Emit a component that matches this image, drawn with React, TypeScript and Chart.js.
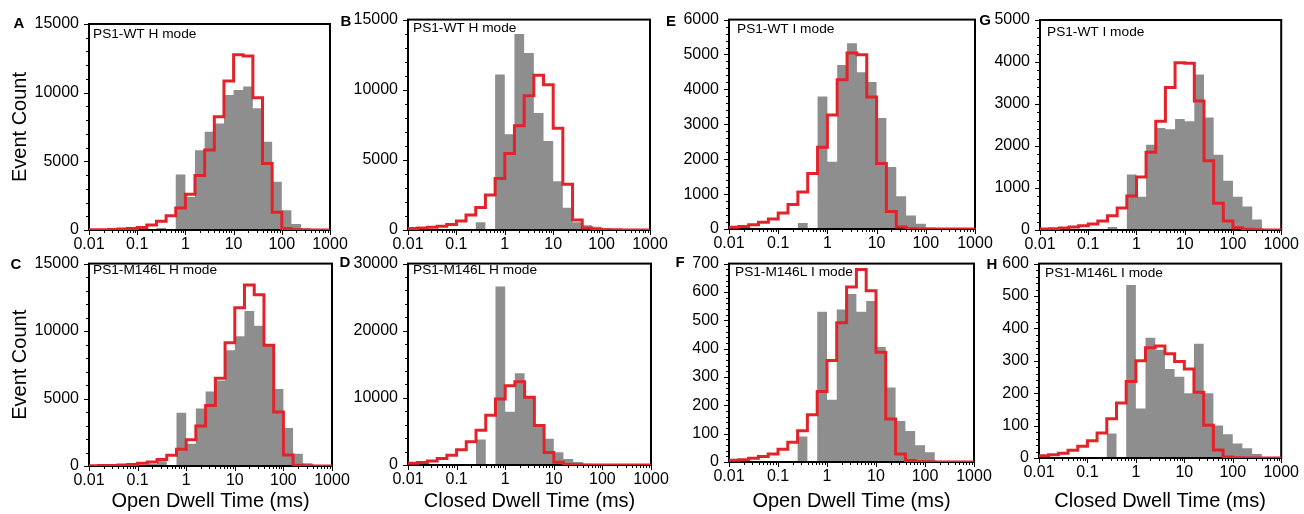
import React, { useEffect, useRef } from 'react';
import { Chart, registerables } from 'chart.js';

Chart.register(...registerables);
Chart.defaults.font.family = "'Liberation Sans', Arial, Helvetica, sans-serif";

// Log-spaced bin edges (5 bins per decade), 0.01 .. 1000 ms
const binEdges = [0.01, 0.0158, 0.0251, 0.0398, 0.0631, 0.1, 0.158, 0.251, 0.398, 0.631, 1, 1.58, 2.51, 3.98, 6.31, 10, 15.8, 25.1, 39.8, 63.1, 100, 158, 251, 398, 631, 1000];
const xTickValues = [0.01, 0.1, 1, 10, 100, 1000];
const xTickLabels = ['0.01', '0.1', '1', '10', '100', '1000'];

// A: PS1-WT H mode, open dwell
const histA = [0, 0, 0, 0, 0, 0, 0, 150, 0, 4050, 2400, 5800, 7150, 7750, 9830, 10190, 10440, 8860, 6430, 3520, 1430, 430, 130, 40, 0];
const fitA = [15, 25, 40, 65, 110, 180, 360, 640, 1030, 1600, 2600, 3960, 5820, 8250, 10850, 12770, 12670, 9630, 4850, 1290, 110, 20, 5, 2, 1];
// B: PS1-WT H mode, closed dwell
const histB = [0, 0, 0, 0, 0, 0, 0, 550, 0, 11090, 6830, 13980, 12610, 8340, 6350, 3480, 1590, 545, 330, 240, 140, 80, 40, 20, 0];
const fitB = [100, 140, 190, 260, 400, 640, 1070, 1610, 2490, 3670, 5450, 7440, 9570, 11040, 10360, 7250, 3270, 710, 140, 50, 20, 10, 5, 2, 1];
// E: PS1-WT I mode, open dwell
const histE = [0, 0, 0, 0, 0, 0, 0, 170, 0, 3800, 1930, 4700, 5320, 4490, 4210, 3180, 1775, 935, 390, 150, 40, 10, 0, 0, 0];
const fitE = [50, 75, 125, 190, 290, 460, 700, 1060, 1590, 2340, 3270, 4280, 5040, 4990, 3780, 1880, 505, 60, 10, 3, 2, 1, 1, 1, 1];
// G: PS1-WT I mode, closed dwell
const histG = [0, 0, 0, 0, 0, 0, 0, 70, 0, 1320, 790, 2030, 2430, 2400, 2640, 2590, 3700, 2680, 1790, 1170, 790, 560, 250, 0, 0];
const fitG = [25, 30, 45, 70, 100, 145, 215, 340, 525, 810, 1260, 1850, 2590, 3390, 3985, 3970, 3070, 1650, 635, 215, 55, 15, 5, 2, 1];
// C: PS1-M146L H mode, open dwell
const histC = [0, 0, 0, 0, 0, 0, 150, 350, 0, 3950, 1650, 4270, 5530, 6330, 8570, 9610, 11480, 10390, 8900, 5700, 2815, 900, 200, 50, 0];
const fitC = [20, 30, 45, 70, 120, 195, 290, 490, 800, 1250, 1940, 2960, 4490, 6500, 9125, 11720, 13420, 12690, 8950, 4000, 820, 60, 10, 3, 1];
// D: PS1-M146L H mode, closed dwell
const histD = [0, 0, 0, 0, 0, 0, 0, 3800, 0, 26600, 7950, 13660, 10000, 5850, 3900, 1900, 900, 450, 200, 100, 50, 20, 0, 0, 0];
const fitD = [245, 390, 585, 975, 1460, 2290, 3450, 5170, 7400, 9830, 11800, 12400, 10100, 5900, 1850, 400, 60, 20, 5, 2, 1, 1, 1, 1, 1];
// F: PS1-M146L I mode, open dwell
const histF = [0, 0, 0, 0, 0, 0, 0, 90, 0, 530, 220, 538, 593, 530, 568, 406, 263, 145, 109, 59, 34, 0, 0, 0, 0];
const fitF = [6, 8, 13, 19, 28, 45, 70, 110, 167, 249, 358, 491, 617, 679, 604, 387, 152, 28, 5, 1, 1, 0, 0, 0, 0];
// H: PS1-M146L I mode, closed dwell
const histH = [0, 0, 0, 0, 0, 0, 0, 76, 0, 534, 153, 371, 334, 275, 251, 200, 353, 200, 100, 73, 45, 30, 12, 0, 0];
const fitH = [7, 10, 15, 24, 36, 53, 77, 121, 170, 236, 300, 340, 346, 322, 298, 275, 203, 101, 25, 3, 1, 0, 0, 0, 0];

const GRAY = '#8e8e8e';
const RED = '#e2232a';

type PanelDef = {
  letter: string;
  mode: string;
  hist: number[];
  fit: number[];
  yMax: number;
  yStep: number;
  yMinor: number;
  box: number[]; // plot area L,T,R,B in page px
  cx: number; // canvas left
  cy: number; // canvas top
  cb: number; // canvas bottom
  letterAt: number[];
  modeAt: number[];
  yTitle: string | null;
  xTitle: string | null;
};

const panels: PanelDef[] = [
  { letter: 'A', mode: 'PS1-WT H mode', hist: histA, fit: fitA, yMax: 15000, yStep: 5000, yMinor: 1000, box: [89, 24, 330, 230], cx: 0, cy: 0, cb: 258, letterAt: [19, 24], modeAt: [93, 34], yTitle: 'Event Count', xTitle: null },
  { letter: 'B', mode: 'PS1-WT H mode', hist: histB, fit: fitB, yMax: 15000, yStep: 5000, yMinor: 1000, box: [408, 19, 650, 230], cx: 334, cy: 0, cb: 258, letterAt: [346, 22], modeAt: [413, 28], yTitle: null, xTitle: null },
  { letter: 'E', mode: 'PS1-WT I mode', hist: histE, fit: fitE, yMax: 6000, yStep: 1000, yMinor: 200, box: [729, 19, 975, 229], cx: 656, cy: 0, cb: 258, letterAt: [671, 22], modeAt: [737, 29], yTitle: null, xTitle: null },
  { letter: 'G', mode: 'PS1-WT I mode', hist: histG, fit: fitG, yMax: 5000, yStep: 1000, yMinor: 200, box: [1040, 20, 1283, 230], cx: 972, cy: 0, cb: 258, letterAt: [985, 21], modeAt: [1047, 32], yTitle: null, xTitle: null },
  { letter: 'C', mode: 'PS1-M146L H mode', hist: histC, fit: fitC, yMax: 15000, yStep: 5000, yMinor: 1000, box: [89, 260, 332, 466], cx: 0, cy: 244, cb: 514, letterAt: [16, 265], modeAt: [93, 270], yTitle: 'Event Count', xTitle: 'Open Dwell Time (ms)' },
  { letter: 'D', mode: 'PS1-M146L H mode', hist: histD, fit: fitD, yMax: 30000, yStep: 10000, yMinor: 2000, box: [408, 260, 651, 465], cx: 334, cy: 244, cb: 514, letterAt: [345, 263], modeAt: [413, 270], yTitle: null, xTitle: 'Closed Dwell Time (ms)' },
  { letter: 'F', mode: 'PS1-M146L I mode', hist: histF, fit: fitF, yMax: 700, yStep: 100, yMinor: 20, box: [729, 261, 974, 462], cx: 656, cy: 244, cb: 514, letterAt: [680, 263], modeAt: [735, 272], yTitle: null, xTitle: 'Open Dwell Time (ms)' },
  { letter: 'H', mode: 'PS1-M146L I mode', hist: histH, fit: fitH, yMax: 600, yStep: 100, yMinor: 20, box: [1039, 262, 1282, 458], cx: 972, cy: 244, cb: 514, letterAt: [992, 265], modeAt: [1045, 273], yTitle: null, xTitle: 'Closed Dwell Time (ms)' },
];

function toSteps(values: number[]) {
  return binEdges.map((e, i) => ({ x: e, y: i < values.length ? values[i] : values[values.length - 1] }));
}

function PanelChart({ p }: { p: PanelDef }) {
  const ref = useRef<HTMLCanvasElement | null>(null);
  const [L, T, R, B] = p.box;
  const right = Math.min(R + 26, 1304);
  const w = right - p.cx;
  const h = p.cb - p.cy;

  useEffect(() => {
    const canvas = ref.current;
    if (!canvas) return;
    const yW = L - p.cx;
    const xH = p.cb - B;
    const padTop = T - p.cy;
    const padRight = right - R;

    const decor = {
      id: 'decor' + p.letter,
      afterDatasetDraw(chart: any, args: any) {
        if (args.index !== 1) return;
        const { ctx, chartArea: a } = chart;
        const x = chart.scales.x;
        const y = chart.scales.y;
        ctx.save();
        ctx.strokeStyle = '#000';
        ctx.lineWidth = 1;
        ctx.beginPath();
        for (let v = 0; v <= p.yMax; v += p.yMinor) {
          const py = Math.round(y.getPixelForValue(v)) + 0.5;
          const len = v % p.yStep === 0 ? 5 : 3;
          ctx.moveTo(a.left - len, py);
          ctx.lineTo(a.left, py);
        }
        for (let d = -2; d <= 3; d++) {
          for (let k = 1; k <= 9; k++) {
            if (d === 3 && k > 1) break;
            const v = k * Math.pow(10, d);
            const px = Math.round(x.getPixelForValue(v)) + 0.5;
            const len = k === 1 ? 5 : 3;
            ctx.moveTo(px, a.bottom);
            ctx.lineTo(px, a.bottom + len);
          }
        }
        ctx.stroke();
        ctx.lineWidth = 2;
        ctx.strokeRect(a.left, a.top, a.right - a.left, a.bottom - a.top);
        ctx.restore();
      },
      afterDraw(chart: any) {
        const ctx = chart.ctx;
        ctx.save();
        ctx.fillStyle = '#000';
        ctx.textBaseline = 'middle';
        ctx.textAlign = 'center';
        ctx.font = "bold 15px 'Liberation Sans', Arial, sans-serif";
        ctx.fillText(p.letter, p.letterAt[0] - p.cx, p.letterAt[1] - p.cy);
        ctx.textAlign = 'left';
        ctx.font = "13.7px 'Liberation Sans', Arial, sans-serif";
        ctx.fillText(p.mode, p.modeAt[0] - p.cx, p.modeAt[1] - p.cy);
        ctx.restore();
      },
    };

    const chart = new Chart(canvas, {
      type: 'line',
      data: {
        datasets: [
          {
            label: 'fit',
            data: toSteps(p.fit),
            borderColor: RED,
            borderWidth: 3,
            pointRadius: 0,
            fill: false,
            stepped: true,
            borderJoinStyle: 'miter',
          },
          {
            label: 'hist',
            data: toSteps(p.hist),
            borderColor: 'rgba(0,0,0,0)',
            borderWidth: 0,
            backgroundColor: GRAY,
            pointRadius: 0,
            fill: 'origin',
            stepped: true,
          },
        ],
      } as any,
      options: {
        animation: false,
        responsive: false,
        devicePixelRatio: 1,
        layout: { padding: { left: 0, top: padTop, right: padRight, bottom: 0 } },
        plugins: { legend: { display: false }, tooltip: { enabled: false } },
        scales: {
          x: {
            type: 'logarithmic',
            min: 0.01,
            max: 1000,
            afterBuildTicks: (axis: any) => {
              axis.ticks = xTickValues.map((v) => ({ value: v }));
            },
            afterFit: (s: any) => {
              s.height = xH;
            },
            grid: { display: false, drawTicks: false },
            border: { display: false },
            ticks: {
              autoSkip: false,
              maxRotation: 0,
              minRotation: 0,
              padding: 5,
              color: '#000',
              font: { size: 16 },
              callback: (_v: any, i: number) => xTickLabels[i],
            },
            title: p.xTitle
              ? { display: true, text: p.xTitle, color: '#000', font: { size: 20, lineHeight: 1.3 }, padding: 0 }
              : { display: false },
          },
          y: {
            type: 'linear',
            min: 0,
            max: p.yMax,
            afterFit: (s: any) => {
              s.width = yW;
            },
            grid: { display: false, drawTicks: false },
            border: { display: false },
            ticks: {
              stepSize: p.yStep,
              padding: 10,
              color: '#000',
              font: { size: 16 },
              callback: (v: any) => String(v),
            },
            title: p.yTitle
              ? { display: true, text: p.yTitle, color: '#000', font: { size: 20 }, padding: { top: 8, bottom: 0 } }
              : { display: false },
          },
        },
      } as any,
      plugins: [decor],
    });
    return () => chart.destroy();
  }, []);

  return (
    <canvas
      ref={ref}
      width={w}
      height={h}
      style={{ position: 'absolute', left: p.cx, top: p.cy, width: w, height: h }}
    />
  );
}

export default function App() {
  return (
    <div style={{ position: 'absolute', left: 0, top: 0, width: 1304, height: 514, background: '#fff', overflow: 'hidden' }}>
      {panels.map((p) => (
        <PanelChart key={p.letter} p={p} />
      ))}
    </div>
  );
}
